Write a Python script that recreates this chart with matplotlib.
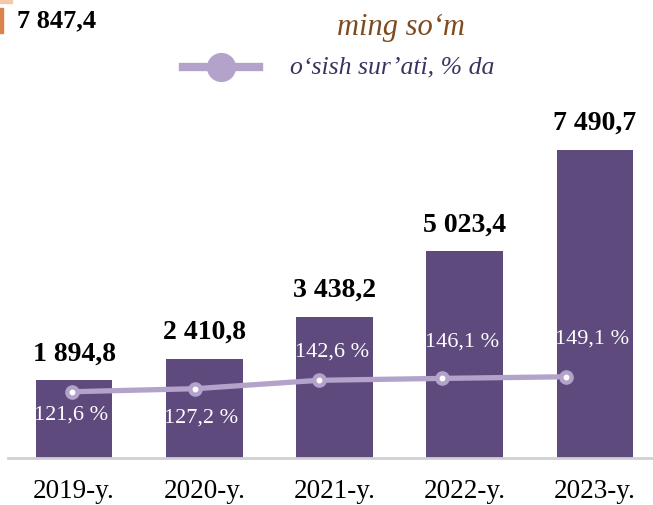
import matplotlib
matplotlib.use("Agg")
import matplotlib.pyplot as plt
from matplotlib.lines import Line2D
from matplotlib.patches import Rectangle

# Ma'lumotlar
years = ["2019-y.", "2020-y.", "2021-y.", "2022-y.", "2023-y."]
values = [1894.8, 2410.8, 3438.2, 5023.4, 7490.7]
value_labels = ["1 894,8", "2 410,8", "3 438,2", "5 023,4", "7 490,7"]
growth = [121.6, 127.2, 142.6, 146.1, 149.1]
growth_labels = ["121,6 %", "127,2 %", "142,6 %", "146,1 %", "149,1 %"]

bar_color = "#5e4a7d"
line_color = "#b3a3cb"

plt.rcParams["font.family"] = ["Liberation Serif", "DejaVu Serif"]

W, H = 653, 505
fig = plt.figure(figsize=(W / 100, H / 100), dpi=100)

# asosiy o'q (ustunlar)
left, bottom = 8 / W, 47 / H
width, height = (W - 8) / W, 358 / H
ax = fig.add_axes([left, bottom, width, height])
x = list(range(len(years)))
ax.bar(x, values, width=0.59, color=bar_color, zorder=2)
ax.set_xlim(-0.507, 4.445)
ax.set_ylim(0, 8706)
for s in ["top", "right", "left"]:
    ax.spines[s].set_visible(False)
ax.spines["bottom"].set_color("#d0d0d0")
ax.spines["bottom"].set_linewidth(2)
ax.set_yticks([])
ax.set_xticks(x)
ax.set_xticklabels(years, fontsize=19.5)
ax.tick_params(axis="x", length=0, pad=15)
for xi, v, lab in zip(x, values, value_labels):
    ax.annotate(lab, (xi, v), xytext=(0, 10), textcoords="offset points",
                ha="center", va="bottom", fontsize=20, fontweight="bold")

# o'sish sur'ati (alohida o'q)
ax2 = fig.add_axes([left, bottom, width, height], frameon=False)
ax2.plot(x, growth, color=line_color, linewidth=3.8, zorder=3,
         marker="o", markersize=9.5, markerfacecolor=line_color,
         markeredgecolor=line_color)
ax2.plot(x, growth, linestyle="none", marker="o", markersize=3.2,
         color="white", zorder=4)
ax2.set_xlim(-0.515, 4.704)
ax2.set_ylim(0, 657)
ax2.set_xticks([])
ax2.set_yticks([])

# foiz yorliqlari (ustunlar markazida)
offsets = [-17, -21, 20, 26, 27]
for xi, g, lab, off in zip(x, growth, growth_labels, offsets):
    yg = ax2.transData.transform((0, g))[1]
    yv = ax.transData.inverted().transform((0, yg))[1]
    ax.annotate(lab, (xi, yv), xytext=(-2, off), textcoords="offset points",
                ha="center", va="center", fontsize=16, color="white",
                zorder=5)

# sarlavha qismlari
fig.text(401 / W, 1 - 27 / H, "ming so\u2018m", ha="center", va="center",
         fontsize=22, style="italic", color="#7f4a1e")
leg = Line2D([183 / W, 259 / W], [1 - 67 / H, 1 - 67 / H],
             transform=fig.transFigure, color=line_color, linewidth=6)
fig.add_artist(leg)
dot = Line2D([221 / W], [1 - 67 / H], transform=fig.transFigure,
             marker="o", markersize=20, color=line_color, linestyle="none")
fig.add_artist(dot)
fig.text(290 / W, 1 - 67 / H, "o\u2018sish sur\u2019ati, % da", ha="left",
         va="center", fontsize=18.5, style="italic", color="#3d3160")

# chap yuqori burchak
fig.text(17 / W, 1 - 21 / H, "7 847,4", ha="left", va="center",
         fontsize=19, fontweight="bold")
fig.add_artist(Rectangle((0, 1 - 33 / H), 3 / W, 25 / H,
                         transform=fig.transFigure, color="#d9824a"))
fig.add_artist(Rectangle((0, 1 - 3 / H), 12 / W, 3 / H,
                         transform=fig.transFigure, color="#f4c8a8"))

fig.savefig("out.png", dpi=100)
